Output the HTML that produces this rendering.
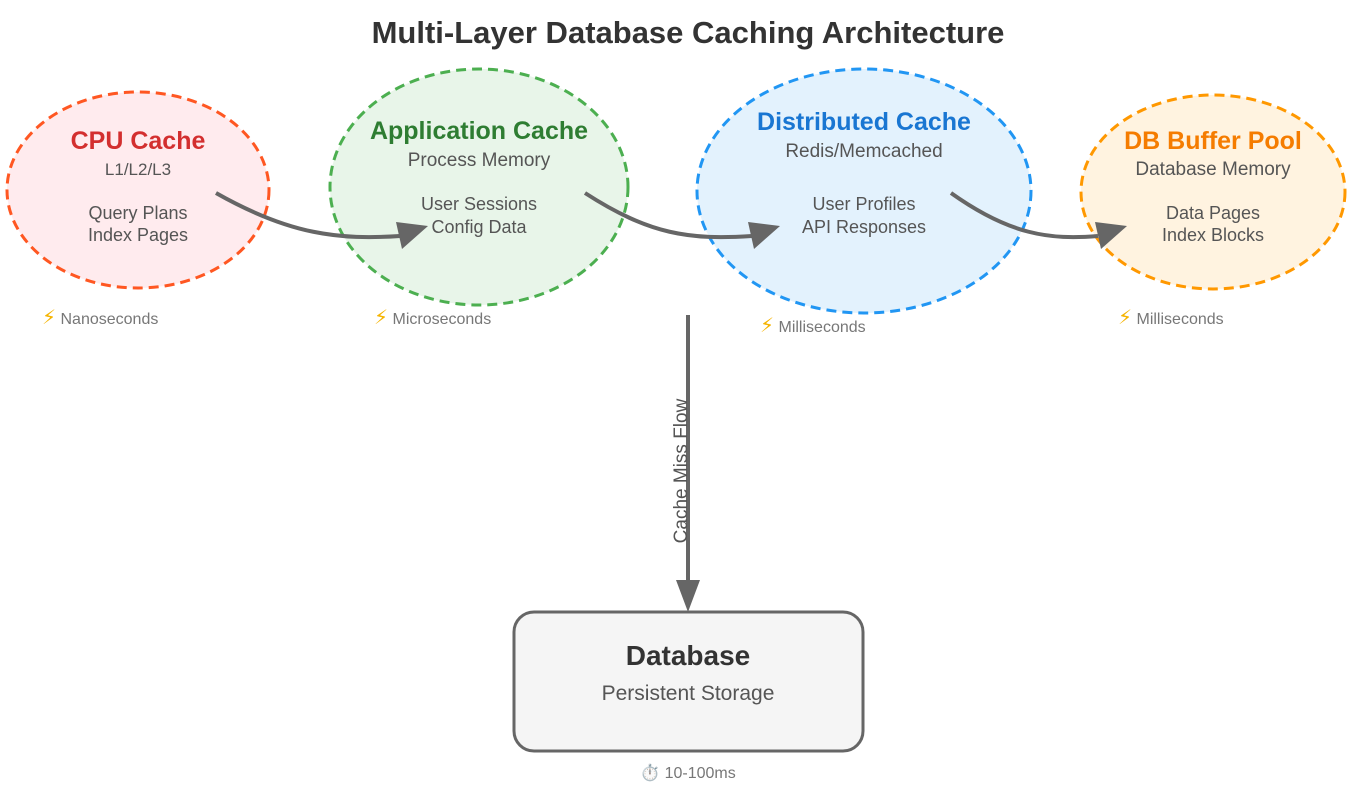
<!DOCTYPE html>
<html><head><meta charset="utf-8"><style>
html,body{margin:0;padding:0;background:#fff;}
svg{display:block;font-family:"Liberation Sans","DejaVu Sans",sans-serif;}
</style></head><body>
<svg width="1360" height="790" viewBox="0 0 1360 790" xmlns="http://www.w3.org/2000/svg">
<text x="688" y="43" text-anchor="middle" font-size="31" font-weight="bold" fill="#333">Multi-Layer Database Caching Architecture</text>

<ellipse cx="138" cy="190" rx="131" ry="98" fill="#ffebee" stroke="#ff5722" stroke-width="3" stroke-dasharray="10,6"/>
<ellipse cx="479" cy="187" rx="149" ry="118" fill="#e8f5e9" stroke="#4caf50" stroke-width="3" stroke-dasharray="10,6"/>
<ellipse cx="864" cy="191" rx="167" ry="122" fill="#e3f2fd" stroke="#2196f3" stroke-width="3" stroke-dasharray="10,6"/>
<ellipse cx="1213" cy="192" rx="132" ry="97" fill="#fff3e0" stroke="#ff9800" stroke-width="3" stroke-dasharray="10,6"/>

<g text-anchor="middle">
<text x="138" y="149" font-size="25" font-weight="bold" fill="#d32f2f">CPU Cache</text>
<text x="138" y="175" font-size="17" fill="#555">L1/L2/L3</text>
<text x="138" y="219" font-size="18" fill="#555">Query Plans</text>
<text x="138" y="241" font-size="18" fill="#555">Index Pages</text>

<text x="479" y="139" font-size="25" font-weight="bold" fill="#2e7d32">Application Cache</text>
<text x="479" y="166" font-size="19" fill="#555">Process Memory</text>
<text x="479" y="210" font-size="18" fill="#555">User Sessions</text>
<text x="479" y="233" font-size="18" fill="#555">Config Data</text>

<text x="864" y="130" font-size="25" font-weight="bold" fill="#1976d2">Distributed Cache</text>
<text x="864" y="157" font-size="19" fill="#555">Redis/Memcached</text>
<text x="864" y="210" font-size="18" fill="#555">User Profiles</text>
<text x="864" y="233" font-size="18" fill="#555">API Responses</text>

<text x="1213" y="149" font-size="25" font-weight="bold" fill="#f57c00">DB Buffer Pool</text>
<text x="1213" y="175" font-size="19" fill="#555">Database Memory</text>
<text x="1213" y="219" font-size="18" fill="#555">Data Pages</text>
<text x="1213" y="241" font-size="18" fill="#555">Index Blocks</text>
</g>

<g font-size="16" fill="#777">
<text x="42" y="324"><tspan fill="#f5b400" font-size="20">⚡</tspan> Nanoseconds</text>
<text x="374" y="324"><tspan fill="#f5b400" font-size="20">⚡</tspan> Microseconds</text>
<text x="760" y="332"><tspan fill="#f5b400" font-size="20">⚡</tspan> Milliseconds</text>
<text x="1118" y="324"><tspan fill="#f5b400" font-size="20">⚡</tspan> Milliseconds</text>
</g>

<g fill="none" stroke="#666" stroke-width="4">
<path d="M216,193 C290,235 340,240 400,236"/>
<path d="M585,193 C650,235 690,240 752,236"/>
<path d="M951,193 C1010,235 1050,240 1098,236"/>
<path d="M688,315 L688,585"/>
</g>
<g fill="#666">
<polygon points="428,226 396,222 402,249"/>
<polygon points="780,226 748,222 754,249"/>
<polygon points="1127,226 1095,222 1101,249"/>
<polygon points="688,612 676,580 700,580"/>
</g>
<text transform="translate(687,471) rotate(-90)" text-anchor="middle" font-size="19" fill="#555">Cache Miss Flow</text>

<rect x="514" y="612" width="349" height="139" rx="20" fill="#f5f5f5" stroke="#666" stroke-width="3"/>
<text x="688" y="665" text-anchor="middle" font-size="28" font-weight="bold" fill="#333">Database</text>
<text x="688" y="700" text-anchor="middle" font-size="21" fill="#555">Persistent Storage</text>
<text x="688" y="778" text-anchor="middle" font-size="16" fill="#777">⏱️ 10-100ms</text>
</svg>
</body></html>
